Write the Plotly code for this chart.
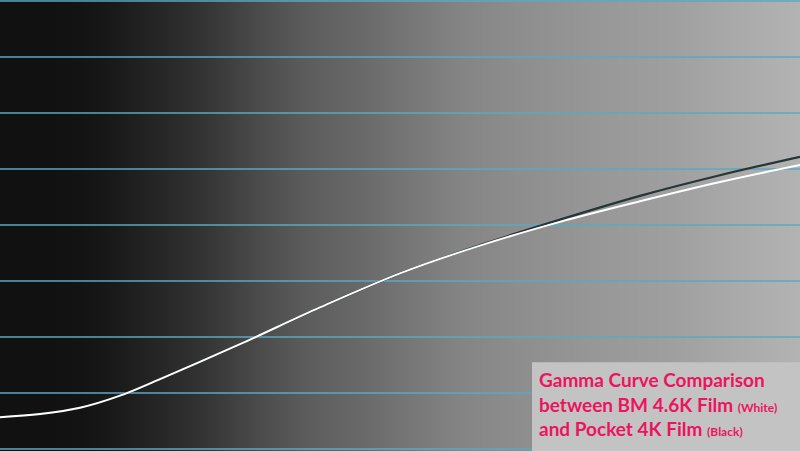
import plotly.graph_objects as go

# Input signal (% of width) and output level (% of scope height)
signal_in = [0, 5, 10, 15, 20, 30, 40, 50, 60, 70, 80, 90, 100]
pocket_4k = [7.1, 7.8, 9.2, 11.9, 15.6, 23.4, 31.6, 39.2, 45.5, 51.2, 56.5, 61.1, 65.2]
bm_46k = [7.1, 7.8, 9.2, 11.9, 15.6, 23.4, 31.6, 39.2, 45.4, 50.7, 55.3, 59.6, 63.4]

# Scope graticule levels
grid_levels = [0, 12.5, 25, 37.5, 50, 62.5, 75, 87.5, 100]

# Background ramp (grey level across the width)
ramp_x = [0, 6, 10, 14, 19, 25.5, 32, 38.3, 44.6, 51, 57.4, 63.8, 70.1, 76.5, 82.9, 89.3, 95.6, 100]
ramp_level = [17, 17, 19, 25, 36, 52, 74, 92, 104, 118, 132, 140, 147, 153, 158, 166, 174, 179]

fig = go.Figure()

# gradient backdrop
fig.add_trace(go.Heatmap(x=ramp_x, y=[-1, 101], z=[ramp_level, ramp_level],
                         zmin=0, zmax=255, zsmooth='best', showscale=False, hoverinfo='skip',
                         colorscale=[[0, 'rgb(0,0,0)'], [1, 'rgb(255,255,255)']]))

# graticule lines (drawn as a trace so they sit above the backdrop)
gx, gy = [], []
for g in grid_levels:
    gx += [0, 100, None]
    gy += [g, g, None]
fig.add_trace(go.Scatter(x=gx, y=gy, mode='lines', hoverinfo='skip',
                         line=dict(color='#5ea8c2', width=1.6)))

fig.add_trace(go.Scatter(x=signal_in, y=pocket_4k, mode='lines', name='Pocket 4K Film',
                         line=dict(color='#263636', width=2.2, shape='spline', smoothing=1)))
fig.add_trace(go.Scatter(x=signal_in, y=bm_46k, mode='lines', name='BM 4.6K Film',
                         line=dict(color='white', width=2, shape='spline', smoothing=1)))

fig.update_layout(
    width=800, height=451,
    margin=dict(l=0, r=0, t=0, b=0),
    showlegend=False,
    plot_bgcolor='#111111',
    paper_bgcolor='#111111',
    xaxis=dict(range=[0, 100], visible=False),
    yaxis=dict(range=[-0.45, 100.22], visible=False),
    shapes=[dict(type='rect', xref='paper', yref='paper', x0=0.665, x1=1, y0=0, y1=0.197,
                 fillcolor='#c3c3c3', line=dict(width=0), layer='above')],
    annotations=[dict(
        xref='paper', yref='paper', x=0.6715, y=0.189, xanchor='left', yanchor='top',
        align='left', showarrow=False,
        font=dict(family='Lato', size=19, color='#ec145f'),
        text=("<b>Gamma Curve Comparison<br>"
              "between BM 4.6K Film <span style='font-size:12px'>(White)</span><br>"
              "and Pocket 4K Film <span style='font-size:12px'>(Black)</span></b>"))]
)

fig.write_html("out.html", config={'displayModeBar': False},
               post_script="document.body.style.margin='0';")
